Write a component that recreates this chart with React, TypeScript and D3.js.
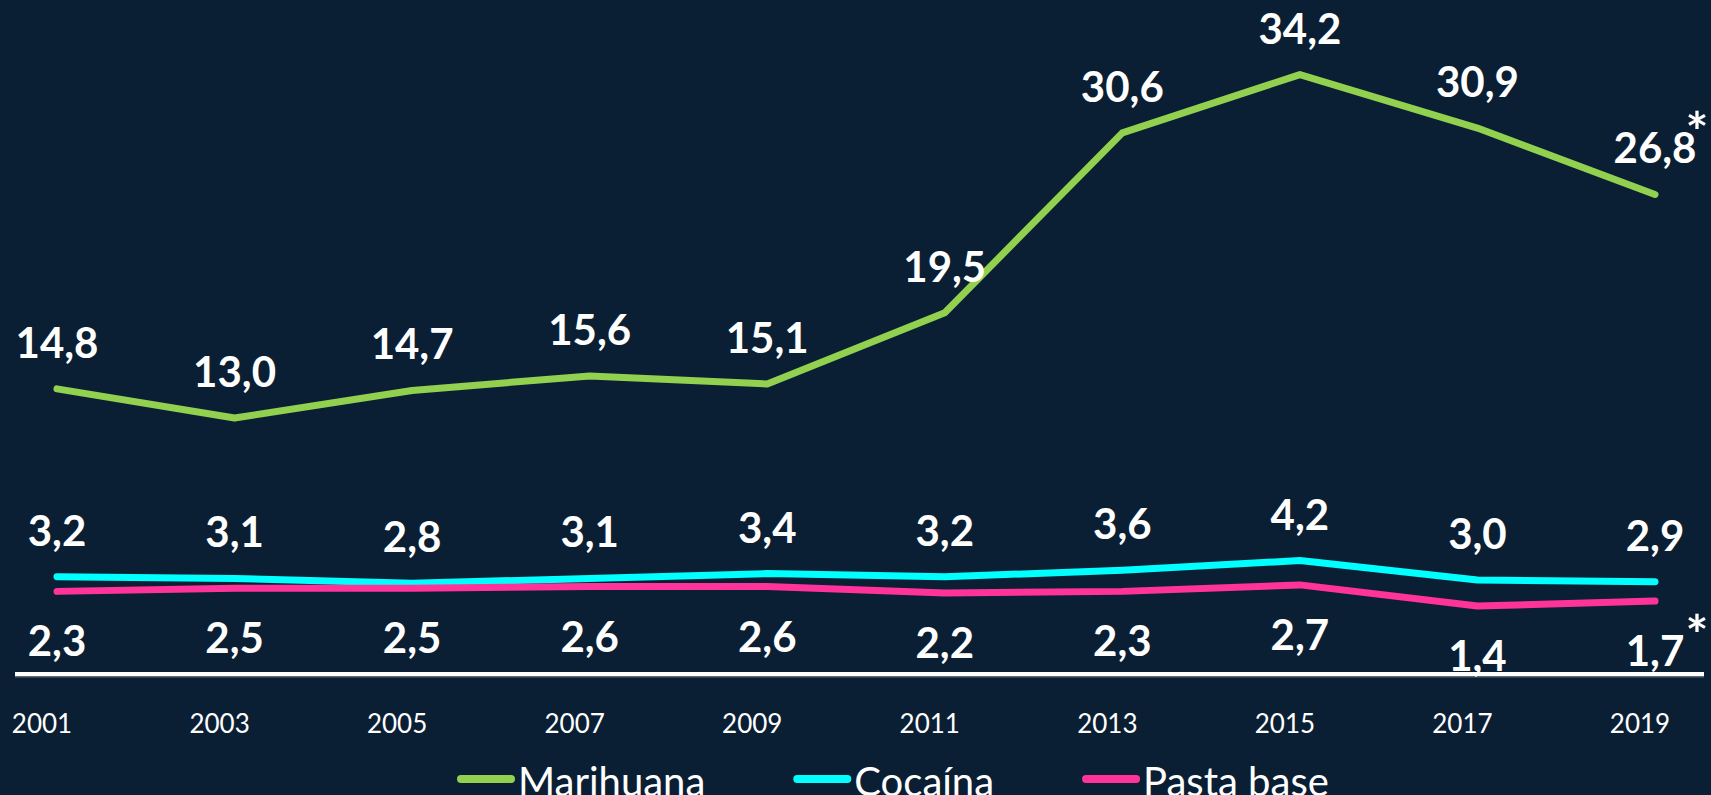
import React, { useEffect, useRef } from "react";
import * as d3 from "d3";

// data
const years = ["2001", "2003", "2005", "2007", "2009", "2011", "2013", "2015", "2017", "2019"];
const marihuana = [14.8, 13.0, 14.7, 15.6, 15.1, 19.5, 30.6, 34.2, 30.9, 26.8];
const cocaina = [3.2, 3.1, 2.8, 3.1, 3.4, 3.2, 3.6, 4.2, 3.0, 2.9];
const pastaBase = [2.3, 2.5, 2.5, 2.6, 2.6, 2.2, 2.3, 2.7, 1.4, 1.7];
const seriesNames = ["Marihuana", "Cocaína", "Pasta base"];
const seriesColors = ["#92d050", "#00ffff", "#ff3399"];
const labelBelow = [false, false, true];
// series whose last value carries an asterisk
const starred = ["Marihuana", "Pasta base"];

const W = 1711;
const H = 795;
const FONT = "Lato, 'Open Sans', sans-serif";

const App = () => {
	const svgRef = useRef<SVGSVGElement>(null);

	useEffect(() => {
		const root = d3.select(svgRef.current);
		root.selectAll("*").remove();

		root.append("rect").attr("width", W).attr("height", H).attr("fill", "#0b1f34");

		const x = d3.scalePoint().domain(years).range([57, 1655]);
		const y = d3.scaleLinear().domain([-2.8, 35]).range([674, 61.6]);

		const locale = d3.formatLocale({ decimal: ",", thousands: ".", grouping: [3], currency: ["$", ""] });
		const fmt = locale.format(".1f");

		const series = [marihuana, cocaina, pastaBase].map((values, i) => ({
			name: seriesNames[i],
			color: seriesColors[i],
			below: labelBelow[i],
			points: values.map((v, j) => ({ year: years[j], value: v })),
		}));

		// baseline
		root
			.append("line")
			.attr("x1", 15)
			.attr("x2", 1704)
			.attr("y1", y(-2.8) + 2.5)
			.attr("y2", y(-2.8) + 2.5)
			.attr("stroke", "#5b6878")
			.attr("stroke-width", 2);
		root
			.append("line")
			.attr("x1", 15)
			.attr("x2", 1704)
			.attr("y1", y(-2.8))
			.attr("y2", y(-2.8))
			.attr("stroke", "#ffffff")
			.attr("stroke-width", 4);

		// year labels
		root
			.append("g")
			.selectAll("text")
			.data(years)
			.enter()
			.append("text")
			.attr("x", (d) => (x(d) as number) - 15)
			.attr("y", 733)
			.attr("text-anchor", "middle")
			.attr("fill", "#ffffff")
			.style("font-family", FONT)
			.style("font-size", "26px")
			.text((d) => d);

		const line = d3
			.line<{ year: string; value: number }>()
			.x((d) => x(d.year) as number)
			.y((d) => y(d.value));

		series.forEach((s) => {
			root
				.append("path")
				.datum(s.points)
				.attr("d", line)
				.attr("fill", "none")
				.attr("stroke", s.color)
				.attr("stroke-width", 7)
				.attr("stroke-linecap", "round")
				.attr("stroke-linejoin", "round");
		});

		series.forEach((s) => {
			const g = root.append("g");
			const baseY = (d) => (s.below ? y(d.value) + 65 : y(d.value) - 31);
			g.selectAll("text")
				.data(s.points)
				.enter()
				.append("text")
				.attr("x", (d) => x(d.year) as number)
				.attr("y", baseY)
				.attr("text-anchor", "middle")
				.attr("fill", "#ffffff")
				.style("font-family", FONT)
				.style("font-weight", 700)
				.style("font-size", "42px")
				.text((d) => fmt(d.value));

			if (starred.includes(s.name)) {
				const last = s.points[s.points.length - 1];
				g.append("text")
					.attr("x", (x(last.year) as number) + 42)
					.attr("y", baseY(last) - 12)
					.attr("text-anchor", "middle")
					.attr("fill", "#ffffff")
					.style("font-family", FONT)
					.style("font-weight", 700)
					.style("font-size", "54px")
					.text("*");
			}
		});

		// legend
		let lx = 457;
		series.forEach((s) => {
			const item = root.append("g").attr("transform", `translate(${lx},0)`);
			item
				.append("line")
				.attr("x1", 4)
				.attr("x2", 54)
				.attr("y1", 779)
				.attr("y2", 779)
				.attr("stroke", s.color)
				.attr("stroke-width", 8)
				.attr("stroke-linecap", "round");
			const t = item
				.append("text")
				.attr("x", 61)
				.attr("y", 796)
				.attr("fill", "#ffffff")
				.style("font-family", FONT)
				.style("font-size", "40px")
				.text(s.name);
			const tw = (t.node() as SVGTextElement).getComputedTextLength();
			lx += 61 + tw + 88;
		});
	}, []);

	return (
		<svg
			ref={svgRef}
			width={W}
			height={H}
			style={{ position: "absolute", left: 0, top: 0, display: "block" }}
		></svg>
	);
};

export default App;
